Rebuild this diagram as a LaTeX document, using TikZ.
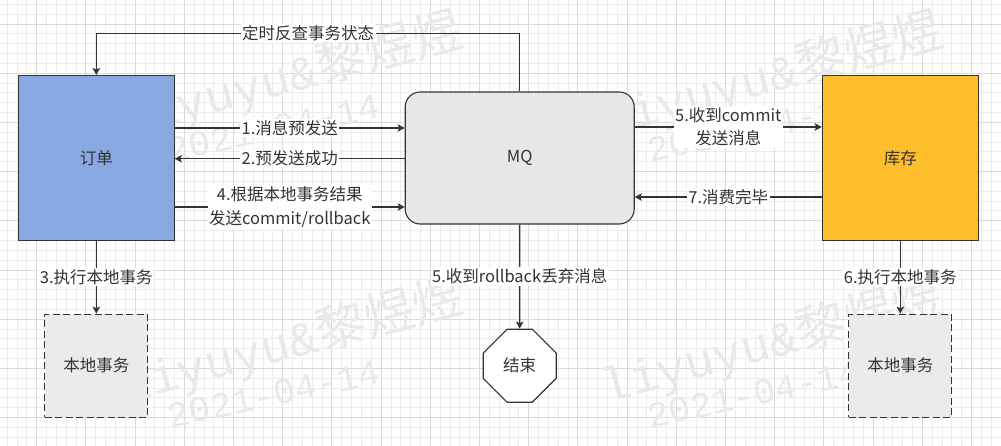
\documentclass[tikz,border=0pt]{standalone}
\usepackage{fontspec}
\newfontfamily\cjk{Noto Sans CJK SC}
\newfontfamily\wmlatin{Liberation Mono}
\usetikzlibrary{arrows.meta,shapes.misc}
\definecolor{ordblue}{RGB}{137,167,224}
\definecolor{stockgold}{RGB}{255,191,45}
\definecolor{mqgray}{RGB}{231,231,231}
\definecolor{localgray}{RGB}{235,235,235}
\definecolor{inkgray}{RGB}{51,51,51}
\definecolor{gridminor}{RGB}{236,236,236}
\definecolor{gridmajor}{RGB}{218,218,218}
\definecolor{wmgray}{RGB}{233,234,232}

\begin{document}
\begin{tikzpicture}[x=1pt, y=-1pt,
	every node/.style={font=\cjk\fontsize{16.5}{23.5}\selectfont, text=inkgray},
	>={Stealth[length=7pt, width=7.5pt, inset=1.5pt]},
	box/.style={draw=inkgray, line width=1.1pt, minimum width=156pt, minimum height=165pt},
	mqbox/.style={draw=inkgray, line width=1.1pt, fill=mqgray, rounded corners=15pt, minimum width=229pt, minimum height=132pt},
	localbox/.style={draw=inkgray, line width=1.1pt, dash pattern=on 7pt off 3.5pt, fill=localgray, minimum width=103pt, minimum height=103pt},
	endbox/.style={draw=inkgray, line width=1.1pt, fill=white, chamfered rectangle, chamfered rectangle xsep=13pt, chamfered rectangle ysep=13pt, minimum width=73pt, minimum height=73pt},
	flow/.style={->, draw=inkgray, line width=1.1pt},
	lab/.style={fill=white, inner sep=1.5pt, align=center},
	wm/.style={text=wmgray, inner sep=0pt}]
	\useasboundingbox (0,0) rectangle (1001,446);
	\fill[white] (0,0) rectangle (1001,446);
	\foreach \i in {0,...,101} {\draw[gridminor, line width=0.9pt] (7.2+9.84*\i,0) -- ++(0,446);}
	\foreach \i in {0,...,44} {\draw[gridminor, line width=0.9pt] (0,4.3+9.84*\i) -- ++(1001,0);}
	\foreach \i in {0,...,19} {\draw[gridmajor, line width=0.9pt] (36.7+49.2*\i,0) -- ++(0,446);}
	\foreach \i in {0,...,8} {\draw[gridmajor, line width=0.9pt] (0,24+49.2*\i) -- ++(1001,0);}
	\foreach \dx/\dy in {0/0, 480/0, 0/266, 480/266} {
		\node[wm, rotate=15] (wmname) at (292+\dx,76+\dy) {{\wmlatin\fontsize{48}{54}\selectfont liyuyu\&}\fontsize{50}{54}\selectfont 黎煜煜};
		\node[wm, rotate=12] (wmdate) at (274+\dx,128+\dy) {\wmlatin\fontsize{36}{42}\selectfont 2021-04-14};
	}

	\node[box, fill=ordblue] (order) at (96.3,158) {订单};
	\node[mqbox] (mq) at (519.7,158) {MQ};
	\node[box, fill=stockgold] (stock) at (900.3,158) {库存};
	\node[localbox] (localL) at (96.3,365.7) {本地事务};
	\node[localbox] (localR) at (900.3,365.7) {本地事务};
	\node[endbox] (end) at (519.7,365.7) {结束};

	\draw[flow] (mq.north) -- ++(0,-58.3) -| (order.north) node[pos=0.25, lab] {定时反查事务状态};
	\draw[flow] ([yshift=30pt]order.east) -- ([yshift=30pt]mq.west) node[midway, lab] {1.消息预发送};
	\draw[flow] ([yshift=-0.7pt]mq.west) -- ([yshift=-0.7pt]order.east) node[midway, lab] {2.预发送成功};
	\draw[flow] ([yshift=-49pt]order.east) -- ([yshift=-49pt]mq.west) node[midway, lab] {4.根据本地事务结果\\发送commit/rollback};
	\draw[flow] ([yshift=31pt]mq.east) -- ([yshift=31pt]stock.west) node[midway, lab] {5.收到commit\\发送消息};
	\draw[flow] ([yshift=-39pt]stock.west) -- ([yshift=-39pt]mq.east) node[midway, lab] {7.消费完毕};
	\draw[flow] (order) -- (localL) node[midway, lab] {3.执行本地事务};
	\draw[flow] (mq) -- (end) node[midway, lab] {5.收到rollback丢弃消息};
	\draw[flow] (stock) -- (localR) node[midway, lab] {6.执行本地事务};
\end{tikzpicture}
\end{document}
